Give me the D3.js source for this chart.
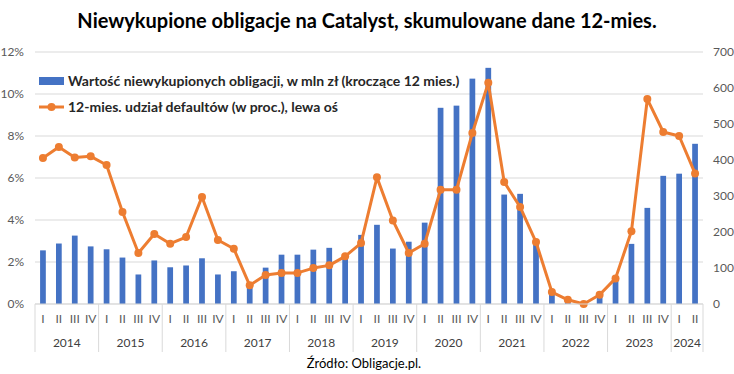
<!DOCTYPE html>
<html>
<head>
<meta charset="utf-8">
<script src="https://cdn.jsdelivr.net/npm/d3@7"></script>
<style>
  body { margin: 0; background: #fff; }
  text { font-family: Lato, "Open Sans", sans-serif; }
</style>
</head>
<body>
<div id="chart"></div>
<script>
// data
const years = ["2014", "2015", "2016", "2017", "2018", "2019", "2020", "2021", "2022", "2023", "2024"];
const quarters = ["I", "II", "III", "IV"];

// value of bonds not redeemed, mln zl (right axis)
const unpaid = [149, 168, 190, 160, 152, 129, 82, 121, 102, 107, 127, 82,
  91, 47, 101, 137, 137, 151, 156, 135, 192, 220, 154, 173,
  226, 545, 551, 626, 656, 304, 306, 180, 31, 12, 0, 26,
  67, 167, 267, 356, 362, 445];

// 12-month default share, % (left axis)
const defaultShare = [6.95, 7.48, 6.98, 7.03, 6.62, 4.38, 2.43, 3.33, 2.87, 3.19, 5.10, 3.05,
  2.63, 0.89, 1.38, 1.48, 1.48, 1.71, 1.84, 2.27, 2.90, 6.03, 3.98, 2.43,
  2.87, 5.44, 5.44, 8.14, 10.53, 5.81, 4.62, 2.95, 0.57, 0.20, 0.0, 0.44,
  1.22, 3.46, 9.76, 8.19, 8.0, 6.22];

const leftTicks = [0, 2, 4, 6, 8, 10, 12];
const rightTicks = [0, 100, 200, 300, 400, 500, 600, 700];

// build category list: year + quarter
let cats = [];
years.forEach(y => {
  let n = y === "2024" ? 2 : 4;
  for (let i = 0; i < n; i++) cats.push({year: y, q: quarters[i], key: y + "-" + quarters[i]});
});
cats.forEach((c, i) => { c.unpaid = unpaid[i]; c.share = defaultShare[i]; });

var width = 734;
var height = 374;

const margin = {top: 52, right: 31, bottom: 70, left: 35};

let svg = d3.select("#chart").append("svg")
  .attr("width", width)
  .attr("height", height);

let x = d3.scaleBand()
  .domain(cats.map(d => d.key))
  .range([margin.left, width - margin.right]);

let yL = d3.scaleLinear()
  .domain([0, 12])
  .range([height - margin.bottom, margin.top]);

let yR = d3.scaleLinear()
  .domain([0, 700])
  .range([height - margin.bottom, margin.top]);

//gridlines from left axis
svg.append("g")
  .selectAll("line")
  .data(leftTicks)
  .enter()
  .append("line")
  .attr("x1", margin.left)
  .attr("x2", width - margin.right)
  .attr("y1", d => yL(d))
  .attr("y2", d => yL(d))
  .style("stroke", "#d9d9d9")
  .style("stroke-width", 1);

//left axis labels
let leftAxis = d3.axisLeft(yL)
  .tickValues(leftTicks)
  .tickSize(0)
  .tickPadding(11)
  .tickFormat(d => d + "%");

svg.append("g")
  .attr("transform", `translate(${margin.left}, 0)`)
  .call(leftAxis)
  .call(g => g.select(".domain").remove())
  .selectAll("text")
  .style("font-size", "12px")
  .style("fill", "#595959");

//right axis labels
let rightAxis = d3.axisRight(yR)
  .tickValues(rightTicks)
  .tickSize(0)
  .tickPadding(10)
  .tickFormat(d3.format("d"));

svg.append("g")
  .attr("transform", `translate(${width - margin.right}, 0)`)
  .call(rightAxis)
  .call(g => g.select(".domain").remove())
  .selectAll("text")
  .style("font-size", "12px")
  .style("fill", "#595959");

//bars
let barW = x.bandwidth() * 0.36;
svg.selectAll("rect.bar")
  .data(cats)
  .enter()
  .append("rect")
  .attr("class", "bar")
  .attr("x", d => x(d.key) + (x.bandwidth() - barW) / 2)
  .attr("width", barW)
  .attr("y", d => yR(d.unpaid))
  .attr("height", d => yR(0) - yR(d.unpaid))
  .style("fill", "#4472c4");

//line
let line = d3.line()
  .x(d => x(d.key) + x.bandwidth() / 2)
  .y(d => yL(d.share));

svg.append("path")
  .datum(cats)
  .attr("d", line)
  .style("fill", "none")
  .style("stroke", "#ed7d31")
  .style("stroke-width", 3)
  .style("stroke-linejoin", "round");

svg.selectAll("circle.dot")
  .data(cats)
  .enter()
  .append("circle")
  .attr("class", "dot")
  .attr("cx", d => x(d.key) + x.bandwidth() / 2)
  .attr("cy", d => yL(d.share))
  .attr("r", 4)
  .style("fill", "#ed7d31");

//category axis
let base = yL(0);
svg.append("line")
  .attr("x1", margin.left).attr("x2", width - margin.right)
  .attr("y1", base).attr("y2", base)
  .style("stroke", "#d9d9d9");

svg.selectAll("text.qLabel")
  .data(cats)
  .enter()
  .append("text")
  .attr("class", "qLabel")
  .attr("x", d => x(d.key) + x.bandwidth() / 2)
  .attr("y", base + 19)
  .style("text-anchor", "middle")
  .style("font-size", "12px")
  .style("fill", "#595959")
  .text(d => d.q);

let yearStart = years.map(y => {
  let inYear = cats.filter(c => c.year === y);
  return {year: y, x0: x(inYear[0].key), x1: x(inYear[inYear.length - 1].key) + x.bandwidth()};
});

svg.selectAll("line.sep")
  .data(yearStart.map(d => d.x0).concat([yearStart[yearStart.length - 1].x1]))
  .enter()
  .append("line")
  .attr("class", "sep")
  .attr("x1", d => d).attr("x2", d => d)
  .attr("y1", base).attr("y2", base + 48)
  .style("stroke", "#d9d9d9");

svg.selectAll("text.yearLabel")
  .data(yearStart)
  .enter()
  .append("text")
  .attr("class", "yearLabel")
  .attr("x", d => (d.x0 + d.x1) / 2)
  .attr("y", base + 43)
  .style("text-anchor", "middle")
  .style("font-size", "12px")
  .style("fill", "#404040")
  .text(d => d.year);

//title
svg.append("text")
  .attr("x", 367)
  .attr("y", 28)
  .style("text-anchor", "middle")
  .style("font-size", "20px")
  .style("font-weight", "bold")
  .style("fill", "#000")
  .text("Niewykupione obligacje na Catalyst, skumulowane dane 12-mies.");

//legend
let legend = svg.append("g");
legend.append("rect")
  .attr("x", 39).attr("y", 77)
  .attr("width", 25).attr("height", 8)
  .style("fill", "#4472c4");
legend.append("text")
  .attr("x", 68).attr("y", 86)
  .style("font-size", "14px")
  .style("font-weight", "bold")
  .style("fill", "#262626")
  .text("Wartość niewykupionych obligacji, w mln zł (kroczące 12 mies.)");

legend.append("line")
  .attr("x1", 39).attr("x2", 64)
  .attr("y1", 107).attr("y2", 107)
  .style("stroke", "#ed7d31")
  .style("stroke-width", 3);
legend.append("circle")
  .attr("cx", 51.5).attr("cy", 107).attr("r", 4)
  .style("fill", "#ed7d31");
legend.append("text")
  .attr("x", 68).attr("y", 112)
  .style("font-size", "14px")
  .style("font-weight", "bold")
  .style("fill", "#262626")
  .text("12-mies. udział defaultów (w proc.), lewa oś");

//source
svg.append("text")
  .attr("x", 364)
  .attr("y", 368)
  .style("text-anchor", "middle")
  .style("font-size", "13px")
  .style("fill", "#000")
  .text("Źródło: Obligacje.pl.");
</script>
</body>
</html>
